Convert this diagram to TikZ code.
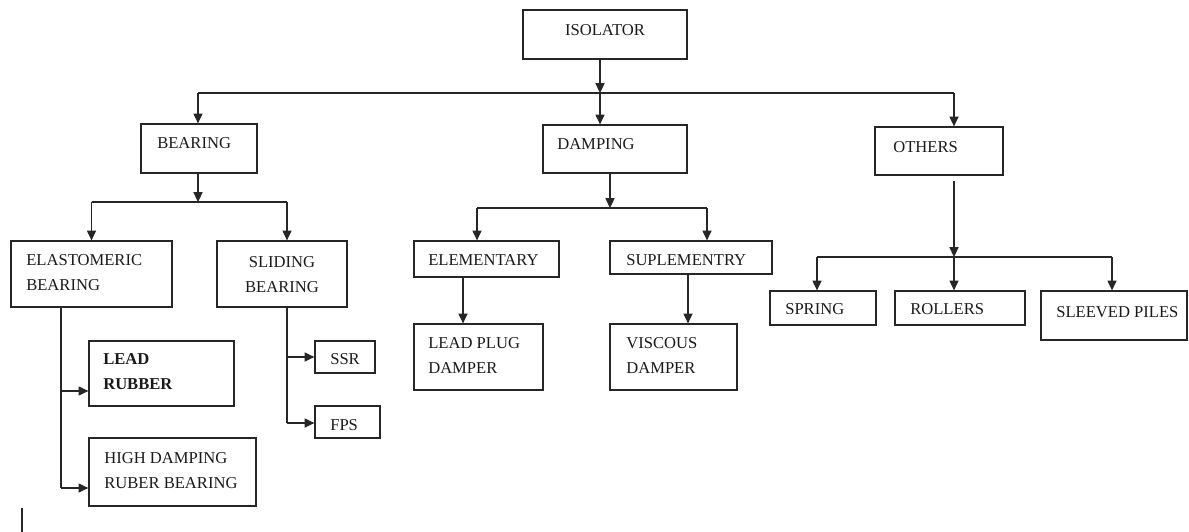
\documentclass[tikz,border=0pt]{standalone}
\usepackage{fontspec}
\setmainfont{Liberation Serif}
\usetikzlibrary{arrows.meta,fit}
\begin{document}
\begin{tikzpicture}[x=0.025cm,y=-0.025cm,
  box/.style={draw=black!85,line width=0.9pt,inner sep=0pt,rectangle},
  txt/.style={inner sep=0pt,anchor=north west,align=left,text=black!90,font=\fontsize{11.8}{17.8}\selectfont},
  arr/.style={draw=black!85,line width=0.8pt,-{Triangle[length=7pt,width=6.5pt]}},
  ln/.style={draw=black!85,line width=0.8pt}]
\useasboundingbox (0,0) rectangle (1189,532);
% boxes
\node[box,fit={(523,10) (687,59)}] (iso) {};
\node[box,fit={(141,124) (257,173)}] (bear) {};
\node[box,fit={(543,125) (687,173)}] (damp) {};
\node[box,fit={(875,127) (1003,175)}] (oth) {};
\node[box,fit={(11,241) (172,307)}] (elast) {};
\node[box,fit={(217,241) (347,307)}] (sld) {};
\node[box,fit={(89,341) (234,406)}] (lr) {};
\node[box,fit={(89,438) (256,506)}] (hd) {};
\node[box,fit={(315,341) (375,373)}] (ssr) {};
\node[box,fit={(315,406) (380,438)}] (fps) {};
\node[box,fit={(414,241) (559,277)}] (ele) {};
\node[box,fit={(610,241) (772,274)}] (sup) {};
\node[box,fit={(414,324) (543,390)}] (lpd) {};
\node[box,fit={(610,324) (737,390)}] (vd) {};
\node[box,fit={(770,291) (876,325)}] (spr) {};
\node[box,fit={(895,291) (1025,325)}] (rol) {};
\node[box,fit={(1041,291) (1187,340)}] (slv) {};
% texts
\node[txt,anchor=north] (t-iso) at (605,24) {ISOLATOR};
\node[txt] (t-bear) at (157,137) {BEARING};
\node[txt] (t-damp) at (557,138) {DAMPING};
\node[txt] (t-oth) at (893,141) {OTHERS};
\node[txt] (t-elast) at (26,254) {ELASTOMERIC\\BEARING};
\node[txt,anchor=north,align=center] (t-sld) at (282,256) {SLIDING\\BEARING};
\node[txt,font=\fontsize{11.8}{17.8}\selectfont\bfseries] (t-lr) at (103,353) {LEAD\\RUBBER};
\node[txt] (t-hd) at (104,452) {HIGH DAMPING\\RUBER BEARING};
\node[txt] (t-ssr) at (330,353) {SSR};
\node[txt] (t-fps) at (330,419) {FPS};
\node[txt] (t-ele) at (428,254) {ELEMENTARY};
\node[txt] (t-sup) at (626,254) {SUPLEMENTRY};
\node[txt] (t-lpd) at (428,337) {LEAD PLUG\\DAMPER};
\node[txt] (t-vd) at (626,337) {VISCOUS\\DAMPER};
\node[txt] (t-spr) at (785,303) {SPRING};
\node[txt] (t-rol) at (910,303) {ROLLERS};
\node[txt] (t-slv) at (1056,306) {SLEEVED PILES};
% junctions and guide coordinates
\coordinate (j0) at (600,93);
\coordinate (j1) at (198,202);
\coordinate (j2) at (610,208);
\coordinate (j3) at (954,257);
\coordinate (xo) at (954,0);
\coordinate (xs) at (287,0);
\coordinate (xe) at (477,0);
\coordinate (xu) at (707,0);
\coordinate (xl) at (463,0);
\coordinate (xv) at (688,0);
\coordinate (xsp) at (817,0);
\coordinate (xsl) at (1112,0);
\coordinate (e1) at (61,391);
\coordinate (e2) at (61,488);
\coordinate (s1) at (287,357);
\coordinate (s2) at (287,423);
% top level
\draw[arr] (iso.south -| j0) -- (j0);
\draw[ln] (j1 |- j0) -- (xo |- j0);
\draw[arr] (j1 |- j0) -- (bear.north -| j1);
\draw[arr] (j0) -- (damp.north -| j0);
\draw[arr] (xo |- j0) -- (oth.north -| xo);
% bearing
\draw[arr] (bear.south -| j1) -- (j1);
\draw[ln] (elast.north |- j1) -- (xs |- j1);
\draw[arr] (elast.north |- j1) -- (elast.north);
\draw[arr] (xs |- j1) -- (sld.north -| xs);
% elastomeric
\draw[ln] (elast.south -| e1) -- (e2);
\draw[arr] (e1) -- (lr.west |- e1);
\draw[arr] (e2) -- (hd.west |- e2);
% sliding
\draw[ln] (sld.south -| s1) -- (s2);
\draw[arr] (s1) -- (ssr.west |- s1);
\draw[arr] (s2) -- (fps.west |- s2);
% damping
\draw[arr] (damp.south -| j2) -- (j2);
\draw[ln] (xe |- j2) -- (xu |- j2);
\draw[arr] (xe |- j2) -- (ele.north -| xe);
\draw[arr] (xu |- j2) -- (sup.north -| xu);
\draw[arr] (ele.south -| xl) -- (lpd.north -| xl);
\draw[arr] (sup.south -| xv) -- (vd.north -| xv);
% others
\draw[arr] ([yshift=-0.125cm]oth.south -| j3) -- (j3);
\draw[ln] (xsp |- j3) -- (xsl |- j3);
\draw[arr] (xsp |- j3) -- (spr.north -| xsp);
\draw[arr] (j3) -- (rol.north -| j3);
\draw[arr] (xsl |- j3) -- (slv.north -| xsl);
% stray mark
\draw[draw=black!85,line width=1.2pt] (22,508) -- (22,532);
\end{tikzpicture}
\end{document}
